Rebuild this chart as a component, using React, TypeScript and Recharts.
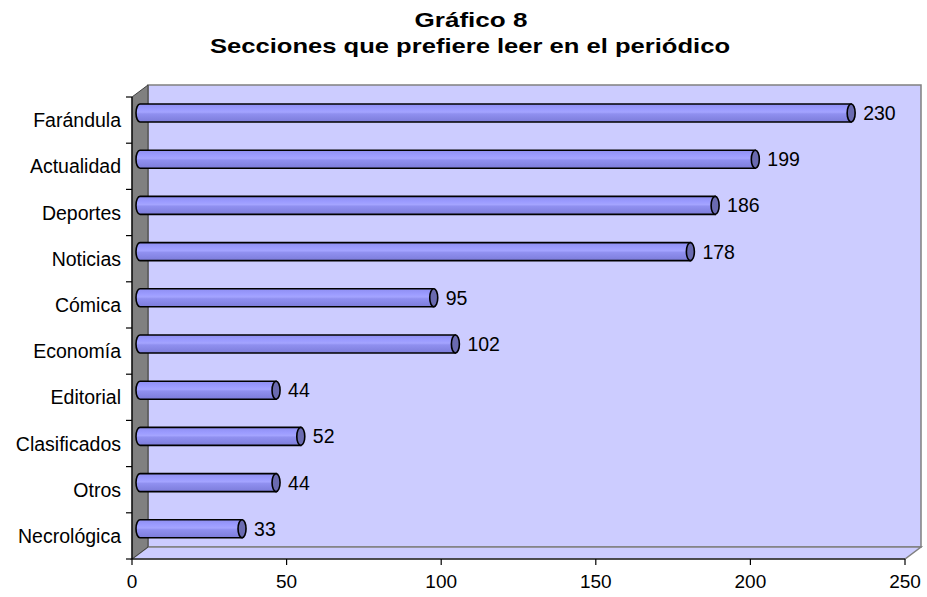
import React from 'react';
import { BarChart, Bar, XAxis, YAxis, LabelList } from 'recharts';

const categories = ['Farándula', 'Actualidad', 'Deportes', 'Noticias', 'Cómica', 'Economía', 'Editorial', 'Clasificados', 'Otros', 'Necrológica'];
const values = [230, 199, 186, 178, 95, 102, 44, 52, 44, 33];
const xTicks = [0, 50, 100, 150, 200, 250];
const titleLine1 = 'Gráfico 8';
const titleLine2 = 'Secciones que prefiere leer en el periódico';

const W = 927;
const H = 597;
const PL = 132;
const PT = 97;
const PR = 905;
const PB = 559;
const DX = 16;
const DY = 12;
const BAR_DX = 8;
const BAR_DY = -7;
const CAP_RX = 4;
const BAND = (PB - PT) / categories.length;
const FONT = '"Liberation Sans", Arial, Helvetica, sans-serif';

const data = categories.map((name, i) => ({ name, value: values[i] }));

const Cylinder = (props: any) => {
  const { x, y, width, height } = props;
  if (x == null || width == null) return null;
  const cx0 = x + BAR_DX;
  const cx1 = x + width + BAR_DX;
  const cy = y + height / 2 + BAR_DY;
  const ry = height / 2;
  const top = cy - ry;
  const bot = cy + ry;
  const d = `M ${cx1} ${top} L ${cx0} ${top} A ${CAP_RX} ${ry} 0 0 0 ${cx0} ${bot} L ${cx1} ${bot} Z`;
  return (
    <g>
      <path d={d} fill="url(#cylGrad)" stroke="#000" strokeWidth={1.6} />
      <ellipse cx={cx1} cy={cy} rx={CAP_RX} ry={ry} fill="#6A6AB0" stroke="#000" strokeWidth={1.6} />
    </g>
  );
};

const ValueLabel = (props: any) => {
  const vb = props.viewBox && props.viewBox.width != null ? props.viewBox : props;
  const { x, y, width, height } = vb;
  if (x == null) return null;
  return (
    <text
      x={x + width + BAR_DX + CAP_RX + 8}
      y={y + height / 2 + BAR_DY}
      dominantBaseline="central"
      fontSize={19.5}
      fontFamily={FONT}
      fill="#000"
    >
      {props.value}
    </text>
  );
};

const CatTick = (props: any) => {
  const { y, payload, index } = props;
  const yTop = y - BAND / 2;
  return (
    <g>
      <text x={PL - 11} y={y} textAnchor="end" dominantBaseline="central" fontSize={19.5} fontFamily={FONT} fill="#000">
        {payload.value}
      </text>
      <line x1={PL - 6} x2={PL} y1={yTop} y2={yTop} stroke="#000" strokeWidth={1.2} />
      {index === categories.length - 1 ? (
        <line x1={PL - 6} x2={PL} y1={y + BAND / 2} y2={y + BAND / 2} stroke="#000" strokeWidth={1.2} />
      ) : null}
    </g>
  );
};

export default function App() {
  return (
    <div style={{ position: 'absolute', left: 0, top: 0, width: W, height: H, background: '#fff' }}>
      <svg width={W} height={H} style={{ position: 'absolute', left: 0, top: 0 }}>
        <defs>
          <linearGradient id="cylGrad" x1="0" y1="0" x2="0" y2="1">
            <stop offset="0%" stopColor="#8E8EF2" />
            <stop offset="30%" stopColor="#9C9CFF" />
            <stop offset="45%" stopColor="#A4A4FF" />
            <stop offset="55%" stopColor="#9090F0" />
            <stop offset="100%" stopColor="#7C7CDA" />
          </linearGradient>
        </defs>
        <text x={471} y={27} textAnchor="middle" fontSize={21} fontWeight="bold" fontFamily={FONT} fill="#000" textLength={113} lengthAdjust="spacingAndGlyphs">
          {titleLine1}
        </text>
        <text x={470} y={53} textAnchor="middle" fontSize={21} fontWeight="bold" fontFamily={FONT} fill="#000" textLength={520} lengthAdjust="spacingAndGlyphs">
          {titleLine2}
        </text>
        <rect x={PL + DX} y={PT - DY} width={PR - PL} height={PB - PT} fill="#CCCCFF" stroke="#808080" strokeWidth={1.5} />
        <polygon
          points={`${PL},${PB} ${PL + DX},${PB - DY} ${PR + DX},${PB - DY} ${PR},${PB}`}
          fill="#CCCCFF"
          stroke="#808080"
          strokeWidth={1.5}
        />
        <polygon
          points={`${PL},${PT} ${PL + DX},${PT - DY} ${PL + DX},${PB - DY} ${PL},${PB}`}
          fill="#808080"
          stroke="#404040"
          strokeWidth={1}
        />
      </svg>
      <div style={{ position: 'absolute', left: 0, top: 0 }}>
        <BarChart
          width={W}
          height={H}
          layout="vertical"
          data={data}
          margin={{ top: PT, right: W - PR, bottom: 0, left: 0 }}
          barSize={18}
        >
          <XAxis
            type="number"
            domain={[0, 250]}
            ticks={xTicks}
            interval={0}
            height={H - PB}
            axisLine={{ stroke: '#000', strokeWidth: 1.2 }}
            tickLine={{ stroke: '#000', strokeWidth: 1.2 }}
            tickSize={6}
            tickMargin={10}
            tick={{ fill: '#000', fontSize: 19, fontFamily: FONT }}
          />
          <YAxis
            type="category"
            dataKey="name"
            width={PL}
            interval={0}
            axisLine={{ stroke: '#000', strokeWidth: 1.2 }}
            tickLine={false}
            tick={<CatTick />}
          />
          <Bar dataKey="value" isAnimationActive={false} shape={<Cylinder />}>
            <LabelList dataKey="value" content={<ValueLabel />} />
          </Bar>
        </BarChart>
      </div>
    </div>
  );
}
